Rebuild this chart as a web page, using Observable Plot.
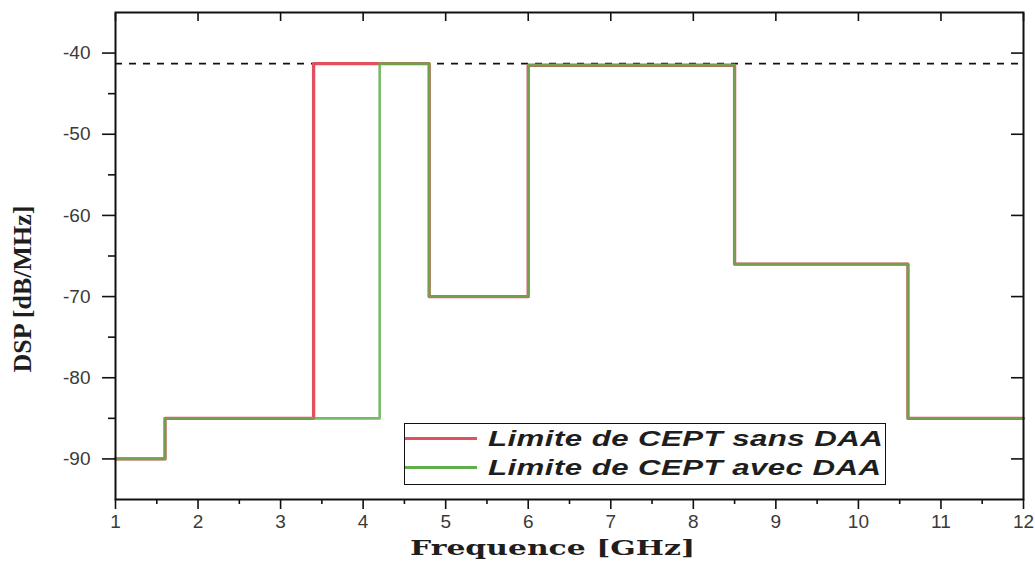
<!DOCTYPE html>
<html>
<head>
<meta charset="utf-8">
<script src="https://cdn.jsdelivr.net/npm/d3@7"></script>
<script src="https://cdn.jsdelivr.net/npm/@observablehq/plot@0.6"></script>
<style>
  body { margin: 0; background: #fff; }
  #wrap { position: relative; width: 1035px; height: 575px; overflow: hidden; }
  #legend {
    position: absolute; left: 404px; top: 423px; width: 482px; height: 62px;
    border: 1.5px solid #111; background: #fff; box-sizing: border-box;
    font-family: "Liberation Sans", Arial, sans-serif; font-style: italic; font-weight: bold;
    font-size: 22px; color: #1e1e1e;
  }
  .row { position: relative; height: 29px; display: flex; align-items: center; }
  .sw { width: 72px; height: 3px; margin-right: 11px; flex: none; }
  .lbl { display: inline-block; transform: scaleX(1.42); transform-origin: left center; white-space: nowrap; letter-spacing: 0.3px; }
  #ylabel {
    position: absolute; left: 23px; top: 289px; transform: translate(-50%, -50%) rotate(-90deg);
    font-family: "Liberation Serif", serif; font-weight: bold; font-size: 26px; color: #1e1e1e; white-space: nowrap;
  }
</style>
</head>
<body>
<div id="wrap"></div>
<script>
// ---- data ----
const seriesNames = ["Limite de CEPT sans DAA", "Limite de CEPT avec DAA"];
const seriesColors = ["#e2505f", "#5fae4b"];

// CEPT limit without DAA (step-after, last point closes the band)
const freqSans = [1, 1.6, 3.4, 4.8, 6.0, 8.5, 10.6, 12];
const dspSans  = [-90, -85, -41.3, -70, -41.5, -66, -85, -85];

// CEPT limit with DAA
const freqAvec = [1, 1.6, 4.2, 4.8, 6.0, 8.5, 10.6, 12];
const dspAvec  = [-90, -85, -41.3, -70, -41.5, -66, -85, -85];

const refLevel = [-41.3];

const xTicks = [1, 2, 3, 4, 5, 6, 7, 8, 9, 10, 11, 12];
const xMinorTicks = [1.5, 2.5, 3.5, 4.5, 5.5, 6.5, 7.5, 8.5, 9.5, 10.5, 11.5];
const yTicks = [-90, -80, -70, -60, -50, -40];
const yMinorTicks = [-85, -75, -65, -55, -45];

const xLabel = "Frequence [GHz]";
const yLabel = "DSP [dB/MHz]";

// ---- build ----
const sans = freqSans.map((f, i) => ({f, v: dspSans[i]}));
const avec = freqAvec.map((f, i) => ({f, v: dspAvec[i]}));

const tickFont = "Liberation Sans, Arial, sans-serif";

const chart = Plot.plot({
  width: 1035,
  height: 575,
  marginLeft: 115,
  marginRight: 12,
  marginTop: 12,
  marginBottom: 76,
  style: {background: "#fff", fontFamily: tickFont, color: "#111"},
  x: {domain: [1, 12]},
  y: {domain: [-95, -35]},
  marks: [
    Plot.ruleY(refLevel, {stroke: "#111", strokeWidth: 1.6, strokeDasharray: "7,7"}),
    Plot.line(sans, {x: "f", y: "v", curve: "step-after", stroke: seriesColors[0], strokeWidth: 3.3}),
    Plot.line(avec, {x: "f", y: "v", curve: "step-after", stroke: seriesColors[1], strokeWidth: 2.6, strokeOpacity: 0.85}),
    Plot.axisX({anchor: "bottom", ticks: xTicks, tickSize: 10, tickPadding: 5, fontSize: 19, label: null,
                tickFormat: d => String(d), fill: "#3a3a3a", strokeWidth: 1.6}),
    Plot.axisX({anchor: "bottom", ticks: xMinorTicks, tickSize: 5, text: null, label: null, strokeWidth: 1.6}),
    Plot.axisX({anchor: "top", ticks: xTicks, tickSize: -8, text: null, label: null, strokeWidth: 1.6}),
    Plot.axisY({anchor: "left", ticks: yTicks, tickSize: 13, tickPadding: 12, fontSize: 19, label: null,
                tickFormat: d => String(d), fill: "#3a3a3a", strokeWidth: 1.6}),
    Plot.axisY({anchor: "left", ticks: yMinorTicks, tickSize: 7, text: null, label: null, strokeWidth: 1.6}),
    Plot.axisY({anchor: "right", ticks: yTicks, tickSize: -13, text: null, label: null, strokeWidth: 1.6}),
    Plot.frame({stroke: "#111", strokeWidth: 2}),
    Plot.text([xLabel], {frameAnchor: "bottom", dx: -17, dy: 55, fontSize: 21, fontWeight: "bold",
                         fontFamily: "DejaVu Serif, serif", fill: "#1e1e1e"})
  ]
});

// stretch the x-axis title to the width seen in the reference
d3.select(chart).selectAll("text").each(function() {
  if (this.textContent === xLabel) d3.select(this).attr("textLength", 285).attr("lengthAdjust", "spacingAndGlyphs");
});

const wrap = document.getElementById("wrap");
wrap.appendChild(chart);

// y-axis title
const yl = document.createElement("div");
yl.id = "ylabel";
yl.textContent = yLabel;
wrap.appendChild(yl);

// legend
const legend = document.createElement("div");
legend.id = "legend";
seriesNames.forEach((name, i) => {
  const row = document.createElement("div");
  row.className = "row";
  const sw = document.createElement("span");
  sw.className = "sw";
  sw.style.background = seriesColors[i];
  const lbl = document.createElement("span");
  lbl.className = "lbl";
  lbl.textContent = name;
  row.appendChild(sw);
  row.appendChild(lbl);
  legend.appendChild(row);
});
wrap.appendChild(legend);
</script>
</body>
</html>
